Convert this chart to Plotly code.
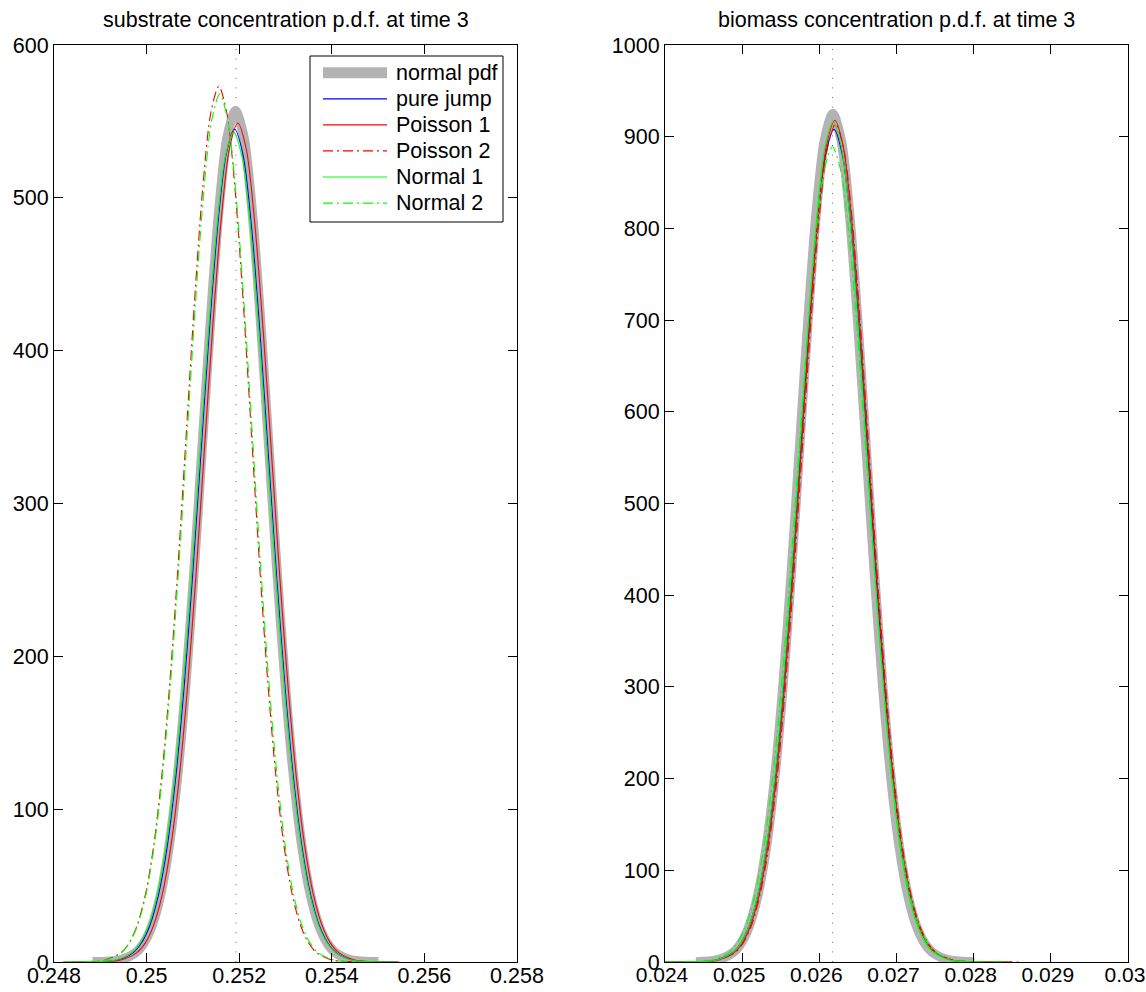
import plotly.graph_objects as go

# ---------------- data: substrate (left panel) ----------------
sub_normal_x = [0.248833, 0.249407, 0.249766, 0.249946, 0.250125, 0.250305, 0.250484, 0.250664, 0.250843, 0.251023,
                0.251202, 0.251382, 0.251561, 0.251741, 0.251920, 0.252100, 0.252279, 0.252459, 0.252638, 0.252818,
                0.252997, 0.253177, 0.253356, 0.253536, 0.253715, 0.253895, 0.254074, 0.254433, 0.255007]
sub_normal_y = [0.1, 1.2, 6.2, 12.7, 24.5, 44.3, 75.4, 120.5, 180.9, 255.0, 337.8, 420.4, 491.6, 539.8, 557.0,
                539.8, 491.6, 420.4, 337.8, 255.0, 180.9, 120.5, 75.4, 44.3, 24.5, 12.7, 6.2, 1.2, 0.1]

sub_jump_x = [0.248386, 0.248752, 0.249338, 0.249704, 0.249887, 0.250070, 0.250253, 0.250436, 0.250619, 0.250802,
              0.250985, 0.251168, 0.251351, 0.251534, 0.251717, 0.251900, 0.252083, 0.252266, 0.252449, 0.252632,
              0.252815, 0.252998, 0.253181, 0.253364, 0.253547, 0.253730, 0.253913, 0.254096, 0.254462, 0.255048, 0.255414]
sub_jump_y = [0.0, 0.1, 1.2, 6.0, 12.4, 23.9, 43.4, 73.7, 117.9, 177.0, 249.5, 330.5, 411.4, 481.0, 528.2, 545.0,
              528.2, 481.0, 411.4, 330.5, 249.5, 177.0, 117.9, 73.7, 43.4, 23.9, 12.4, 6.0, 1.2, 0.1, 0.0]

sub_pois1_x = [0.248482, 0.248845, 0.249427, 0.249790, 0.249972, 0.250153, 0.250335, 0.250517, 0.250698, 0.250880,
               0.251062, 0.251243, 0.251425, 0.251607, 0.251788, 0.251970, 0.252152, 0.252333, 0.252515, 0.252697,
               0.252878, 0.253060, 0.253242, 0.253423, 0.253605, 0.253787, 0.253968, 0.254150, 0.254513, 0.255095, 0.255458]
sub_pois1_y = [0.0, 0.1, 1.2, 6.1, 12.5, 24.1, 43.7, 74.3, 118.7, 178.3, 251.3, 333.0, 414.4, 484.5, 532.1, 549.0,
               532.1, 484.5, 414.4, 333.0, 251.3, 178.3, 118.7, 74.3, 43.7, 24.1, 12.5, 6.1, 1.2, 0.1, 0.0]

sub_pois2_x = [0.248200, 0.248550, 0.249110, 0.249460, 0.249635, 0.249810, 0.249985, 0.250160, 0.250335, 0.250510,
               0.250685, 0.250860, 0.251035, 0.251210, 0.251385, 0.251560, 0.251735, 0.251910, 0.252085, 0.252260,
               0.252435, 0.252610, 0.252785, 0.252960, 0.253135, 0.253310, 0.253485, 0.253660, 0.254010, 0.254570, 0.254920]
sub_pois2_y = [0.0, 0.1, 1.3, 6.4, 13.1, 25.2, 45.6, 77.5, 123.9, 186.1, 262.3, 347.5, 432.5, 505.7, 555.3, 573.0,
               555.3, 505.7, 432.5, 347.5, 262.3, 186.1, 123.9, 77.5, 45.6, 25.2, 13.1, 6.4, 1.3, 0.1, 0.0]

sub_norm1_x = [0.248352, 0.248719, 0.249307, 0.249675, 0.249859, 0.250042, 0.250226, 0.250410, 0.250594, 0.250777,
               0.250961, 0.251145, 0.251329, 0.251512, 0.251696, 0.251880, 0.252064, 0.252248, 0.252431, 0.252615,
               0.252799, 0.252983, 0.253166, 0.253350, 0.253534, 0.253718, 0.253901, 0.254085, 0.254453, 0.255041, 0.255408]
sub_norm1_y = [0.0, 0.1, 1.2, 6.0, 12.4, 23.8, 43.2, 73.5, 117.5, 176.3, 248.6, 329.3, 409.9, 479.2, 526.3, 543.0,
               526.3, 479.2, 409.9, 329.3, 248.6, 176.3, 117.5, 73.5, 43.2, 23.8, 12.4, 6.0, 1.2, 0.1, 0.0]

sub_norm2_x = [0.248196, 0.248548, 0.249112, 0.249465, 0.249641, 0.249817, 0.249994, 0.250170, 0.250346, 0.250522,
               0.250699, 0.250875, 0.251051, 0.251227, 0.251404, 0.251580, 0.251756, 0.251933, 0.252109, 0.252285,
               0.252461, 0.252638, 0.252814, 0.252990, 0.253166, 0.253343, 0.253519, 0.253695, 0.254048, 0.254612, 0.254964]
sub_norm2_y = [0.0, 0.1, 1.2, 6.3, 13.0, 24.9, 45.2, 76.9, 122.9, 184.4, 260.0, 344.5, 428.7, 501.3, 550.5, 568.0,
               550.5, 501.3, 428.7, 344.5, 260.0, 184.4, 122.9, 76.9, 45.2, 24.9, 13.0, 6.3, 1.2, 0.1, 0.0]

sub_mean = 0.25193
sub_yrange = [0, 600]

# ---------------- data: biomass (right panel) ----------------
bio_normal_x = [0.024400, 0.024666, 0.024882, 0.024990, 0.025097, 0.025205, 0.025313, 0.025421, 0.025528, 0.025636,
                0.025744, 0.025852, 0.025959, 0.026067, 0.026175, 0.026283, 0.026391, 0.026498, 0.026606, 0.026714,
                0.026822, 0.026929, 0.027037, 0.027145, 0.027253, 0.027360, 0.027468, 0.027684, 0.028010]
bio_normal_y = [0.1, 2.0, 10.3, 21.1, 40.6, 73.6, 125.2, 200.1, 300.3, 423.5, 561.0, 698.2, 816.3, 896.5, 925.0,
                896.5, 816.3, 698.2, 561.0, 423.5, 300.3, 200.1, 125.2, 73.6, 40.6, 21.1, 10.3, 2.0, 0.1]

bio_jump_x = [0.024000, 0.024302, 0.024653, 0.024873, 0.024983, 0.025092, 0.025202, 0.025312, 0.025422, 0.025531,
              0.025641, 0.025751, 0.025861, 0.025970, 0.026080, 0.026190, 0.026300, 0.026410, 0.026519, 0.026629,
              0.026739, 0.026849, 0.026958, 0.027068, 0.027178, 0.027288, 0.027397, 0.027507, 0.027727, 0.028078, 0.028400]
bio_jump_y = [0.0, 0.1, 2.0, 10.1, 20.7, 39.9, 72.3, 122.9, 196.4, 294.8, 415.7, 550.7, 685.4, 801.3, 880.0, 908.0,
              880.0, 801.3, 685.4, 550.7, 415.7, 294.8, 196.4, 122.9, 72.3, 39.9, 20.7, 10.1, 2.0, 0.1, 0.0]

bio_pois1_x = [0.024000, 0.024329, 0.024677, 0.024895, 0.025004, 0.025112, 0.025221, 0.025330, 0.025439, 0.025547,
               0.025656, 0.025765, 0.025874, 0.025982, 0.026091, 0.026200, 0.026309, 0.026418, 0.026526, 0.026635,
               0.026744, 0.026853, 0.026961, 0.027070, 0.027179, 0.027288, 0.027396, 0.027505, 0.027723, 0.028071, 0.028500]
bio_pois1_y = [0.0, 0.1, 2.0, 10.2, 20.9, 40.3, 73.1, 124.2, 198.6, 298.1, 420.3, 556.8, 692.9, 810.1, 889.7, 918.0,
               889.7, 810.1, 692.9, 556.8, 420.3, 298.1, 198.6, 124.2, 73.1, 40.3, 20.9, 10.2, 2.0, 0.1, 0.0]

bio_pois2_x = [0.024000, 0.024339, 0.024687, 0.024905, 0.025014, 0.025122, 0.025231, 0.025340, 0.025449, 0.025557,
               0.025666, 0.025775, 0.025884, 0.025992, 0.026101, 0.026210, 0.026319, 0.026428, 0.026536, 0.026645,
               0.026754, 0.026863, 0.026971, 0.027080, 0.027189, 0.027298, 0.027406, 0.027515, 0.027733, 0.028081, 0.028600]
bio_pois2_y = [0.0, 0.1, 2.0, 10.1, 20.8, 40.1, 72.8, 123.7, 197.7, 296.8, 418.4, 554.4, 689.9, 806.6, 885.8, 914.0,
               885.8, 806.6, 689.9, 554.4, 418.4, 296.8, 197.7, 123.7, 72.8, 40.1, 20.8, 10.1, 2.0, 0.1, 0.0]

bio_norm1_x = [0.024000, 0.024309, 0.024657, 0.024875, 0.024984, 0.025092, 0.025201, 0.025310, 0.025419, 0.025527,
               0.025636, 0.025745, 0.025854, 0.025962, 0.026071, 0.026180, 0.026289, 0.026398, 0.026506, 0.026615,
               0.026724, 0.026833, 0.026941, 0.027050, 0.027159, 0.027268, 0.027376, 0.027485, 0.027703, 0.028051, 0.028400]
bio_norm1_y = [0.0, 0.1, 2.0, 10.2, 20.9, 40.2, 72.9, 123.9, 198.1, 297.4, 419.3, 555.6, 691.4, 808.4, 887.8, 916.0,
               887.8, 808.4, 691.4, 555.6, 419.3, 297.4, 198.1, 123.9, 72.9, 40.2, 20.9, 10.2, 2.0, 0.1, 0.0]

bio_norm2_x = [0.024000, 0.024239, 0.024598, 0.024823, 0.024935, 0.025047, 0.025160, 0.025272, 0.025384, 0.025496,
               0.025609, 0.025721, 0.025833, 0.025945, 0.026058, 0.026170, 0.026282, 0.026395, 0.026507, 0.026619,
               0.026731, 0.026844, 0.026956, 0.027068, 0.027180, 0.027293, 0.027405, 0.027517, 0.027742, 0.028101, 0.028500]
bio_norm2_y = [0.0, 0.1, 2.0, 9.9, 20.3, 39.0, 70.8, 120.3, 192.3, 288.7, 407.0, 539.2, 671.0, 784.5, 861.6, 889.0,
               861.6, 784.5, 671.0, 539.2, 407.0, 288.7, 192.3, 120.3, 70.8, 39.0, 20.3, 9.9, 2.0, 0.1, 0.0]

bio_mean = 0.02617
bio_yrange = [0, 1000]

# ---------------- ticks / labels ----------------
series_names = ["normal pdf", "pure jump", "Poisson 1", "Poisson 2", "Normal 1", "Normal 2"]
sub_xticks = [0.248, 0.250, 0.252, 0.254, 0.256, 0.258]
sub_xticktext = ["0.248", "0.25", "0.252", "0.254", "0.256", "0.258"]
sub_yticks = [0, 100, 200, 300, 400, 500, 600]
bio_xticks = [0.024, 0.025, 0.026, 0.027, 0.028, 0.029, 0.030]
bio_xticktext = ["0.024", "0.025", "0.026", "0.027", "0.028", "0.029", "0.03"]
bio_yticks = [0, 100, 200, 300, 400, 500, 600, 700, 800, 900, 1000]
titles = ["substrate concentration p.d.f. at time 3", "biomass concentration p.d.f. at time 3"]

# ---------------- styles ----------------
FONT = "Liberation Sans, Arial, Helvetica, sans-serif"
FS = 21.5
DASHDOT = "10px,4px,2px,4px"
styles = [
    dict(color="#b3b3b3", width=9.5, dash="solid"),
    dict(color="#0000ff", width=1.1, dash="solid"),
    dict(color="#ff0000", width=1.1, dash="solid"),
    dict(color="#ff0000", width=1.1, dash=DASHDOT),
    dict(color="#00ff00", width=1.1, dash="solid"),
    dict(color="#00ff00", width=1.1, dash=DASHDOT),
]

fig = go.Figure()

panels = [
    ("x", "y", [(sub_normal_x, sub_normal_y), (sub_jump_x, sub_jump_y), (sub_pois1_x, sub_pois1_y),
                (sub_pois2_x, sub_pois2_y), (sub_norm1_x, sub_norm1_y), (sub_norm2_x, sub_norm2_y)],
     sub_mean, sub_yrange),
    ("x2", "y2", [(bio_normal_x, bio_normal_y), (bio_jump_x, bio_jump_y), (bio_pois1_x, bio_pois1_y),
                  (bio_pois2_x, bio_pois2_y), (bio_norm1_x, bio_norm1_y), (bio_norm2_x, bio_norm2_y)],
     bio_mean, bio_yrange),
]

for xa, ya, curves, mean, yr in panels:
    fig.add_trace(go.Scatter(x=[mean, mean], y=yr, mode="lines", xaxis=xa, yaxis=ya,
                             line=dict(color="#666666", width=1, dash="1px,8.6px"),
                             showlegend=False, hoverinfo="skip"))
    for name, (cx, cy), st in zip(series_names, curves, styles):
        fig.add_trace(go.Scatter(x=cx, y=cy, mode="lines", name=name, xaxis=xa, yaxis=ya,
                                 line=dict(color=st["color"], width=st["width"], dash=st["dash"],
                                           shape="spline", smoothing=0.8),
                                 showlegend=False))

W, H = 1146, 992
L1, R1, L2, R2, T, B = 54, 517, 665, 1128, 45, 962

axis_common = dict(showline=True, linecolor="black", linewidth=1, mirror="ticks", ticks="inside",
                   ticklen=9, tickcolor="black", tickwidth=1, showgrid=False, zeroline=False,
                   automargin=False, ticklabeloverflow="allow",
                   tickfont=dict(family=FONT, size=FS, color="black"))
xaxis_extra = dict(ticklabelstandoff=-6)

# legend box (drawn in paper pixels, top-right inside the left panel)
LEG_L, LEG_R, LEG_T, LEG_B = 310, 503, 56, 222
ROW0, ROWSTEP = 72.8, 26.05
SAMP_L, SAMP_R, TEXT_X = 323, 387, 394

def px(x):
    return x / W

def py(y):
    return 1 - y / H

shapes = [dict(type="rect", xref="paper", yref="paper", x0=px(LEG_L), x1=px(LEG_R), y0=py(LEG_B), y1=py(LEG_T),
               line=dict(color="black", width=1), fillcolor="white", layer="above")]
annotations = []
for i, (name, st) in enumerate(zip(series_names, styles)):
    ry = ROW0 + i * ROWSTEP
    shapes.append(dict(type="line", xref="paper", yref="paper", x0=px(SAMP_L), x1=px(SAMP_R), y0=py(ry), y1=py(ry),
                       line=dict(color=st["color"], width=(11 if i == 0 else 1.2), dash=st["dash"]),
                       layer="above"))
    annotations.append(dict(text=name, x=px(TEXT_X), y=py(ry), xref="paper", yref="paper", showarrow=False,
                            xanchor="left", yanchor="middle", font=dict(family=FONT, size=FS, color="black")))

annotations += [
    dict(text=titles[0], x=px((L1 + R1) / 2), y=py(20), xref="paper", yref="paper",
         showarrow=False, xanchor="center", yanchor="middle", font=dict(family=FONT, size=FS, color="black")),
    dict(text=titles[1], x=px((L2 + R2) / 2), y=py(20), xref="paper", yref="paper",
         showarrow=False, xanchor="center", yanchor="middle", font=dict(family=FONT, size=FS, color="black")),
]

x2_common = dict(axis_common)
x2_common["tickfont"] = dict(family=FONT, size=21, color="black")

fig.update_layout(
    width=W, height=H, autosize=False,
    margin=dict(l=0, r=0, t=0, b=0, pad=0, autoexpand=False),
    paper_bgcolor="white", plot_bgcolor="white",
    font=dict(family=FONT, size=FS, color="black"),
    showlegend=False,
    xaxis=dict(domain=[L1 / W, R1 / W], range=[0.248, 0.258], tickvals=sub_xticks, ticktext=sub_xticktext,
               anchor="y", **axis_common, **xaxis_extra),
    yaxis=dict(domain=[1 - B / H, 1 - T / H], range=sub_yrange, tickvals=sub_yticks, anchor="x", **axis_common),
    xaxis2=dict(domain=[L2 / W, R2 / W], range=[0.024, 0.030], tickvals=bio_xticks, ticktext=bio_xticktext,
                anchor="y2", ticklabelshift=-3, **x2_common, **xaxis_extra),
    yaxis2=dict(domain=[1 - B / H, 1 - T / H], range=bio_yrange, tickvals=bio_yticks, anchor="x2", **axis_common),
    shapes=shapes,
    annotations=annotations,
)

fig.write_html("out.html", config={"displayModeBar": False},
               post_script="document.body.style.margin='0';")
